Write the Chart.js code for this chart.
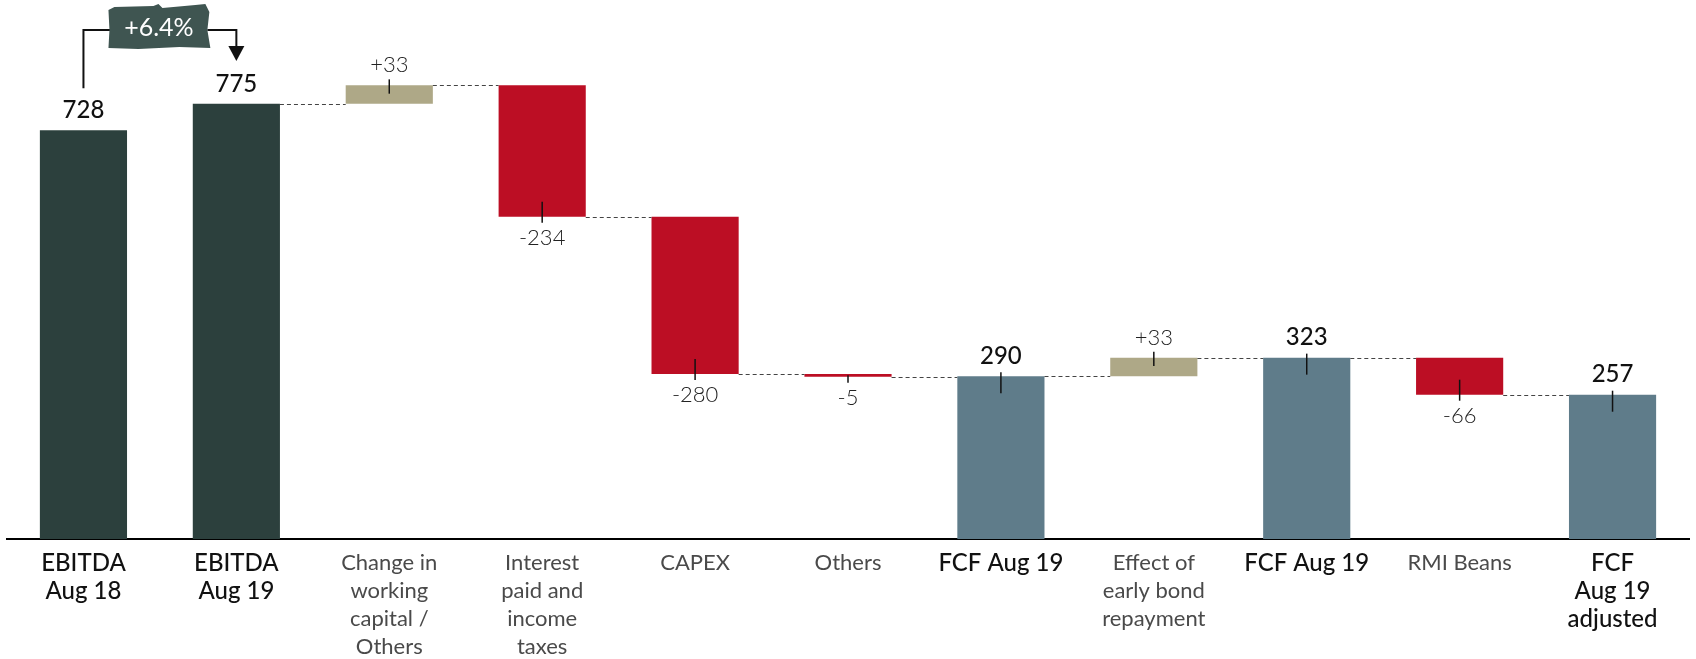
<!DOCTYPE html>
<html>
<head>
<meta charset="utf-8">
<script src="https://cdn.jsdelivr.net/npm/chart.js@4.4.0/dist/chart.umd.min.js"></script>
<style>
  html, body { margin: 0; padding: 0; background: #fff; }
  #wrap { width: 1696px; height: 659px; position: relative; }
</style>
</head>
<body>
<div id="wrap"><canvas id="fcfChart"></canvas></div>
<script>
    // Data
    const categories = [
        ['EBITDA', 'Aug 18'],
        ['EBITDA', 'Aug 19'],
        ['Change in', 'working', 'capital /', 'Others'],
        ['Interest', 'paid and', 'income', 'taxes'],
        ['CAPEX'],
        ['Others'],
        ['FCF Aug 19'],
        ['Effect of', 'early bond', 'repayment'],
        ['FCF Aug 19'],
        ['RMI Beans'],
        ['FCF', 'Aug 19', 'adjusted']
    ];
    const values = [728, 775, 33, -234, -280, -5, 290, 33, 323, -66, 257];
    const kinds = ['total', 'total', 'delta', 'delta', 'delta', 'delta', 'total', 'delta', 'total', 'delta', 'total'];
    const barColors = ['#2c403d', '#2c403d', '#aea887', '#bc0e24', '#bc0e24', '#bc0e24', '#5f7c8a', '#aea887', '#5f7c8a', '#bc0e24', '#5f7c8a'];
    const growthLabel = '+6.4%';

    // Build floating ranges for the waterfall
    let running = 0;
    const ranges = values.map((v, i) => {
        if (kinds[i] === 'total') {
            running = v;
            return [0, v];
        }
        const start = running;
        running += v;
        return [start, running];
    });

    const FONT = 'Lato, "Noto Sans", sans-serif';

    // Connectors, tick marks, value labels and the growth bracket
    const waterfallDecor = {
        id: 'waterfallDecor',
        afterDatasetsDraw(chart) {
            const ctx = chart.ctx;
            const bars = chart.getDatasetMeta(0).data;
            const y = chart.scales.y;

            ctx.save();
            // dashed connectors at the end level of each bar
            ctx.strokeStyle = '#444';
            ctx.lineWidth = 1;
            ctx.setLineDash([4, 3]);
            for (let i = 1; i < bars.length - 1; i++) {
                const a = bars[i], b = bars[i + 1];
                const yy = Math.round(y.getPixelForValue(ranges[i][1])) + 0.5;
                ctx.beginPath();
                ctx.moveTo(a.x + a.width / 2, yy);
                ctx.lineTo(b.x - b.width / 2, yy);
                ctx.stroke();
            }
            ctx.setLineDash([]);

            // tick marks and labels
            ctx.textAlign = 'center';
            ctx.textBaseline = 'middle';
            bars.forEach((bar, i) => {
                const v = values[i];
                const top = y.getPixelForValue(Math.max(ranges[i][0], ranges[i][1]));
                const bottom = y.getPixelForValue(Math.min(ranges[i][0], ranges[i][1]));
                const h = bottom - top;
                ctx.strokeStyle = '#111';
                ctx.lineWidth = 1.5;
                if (kinds[i] === 'total') {
                    if (i > 1) {
                        ctx.beginPath();
                        ctx.moveTo(bar.x, top - 4);
                        ctx.lineTo(bar.x, top + 17);
                        ctx.stroke();
                    }
                    ctx.fillStyle = '#111';
                    ctx.font = '500 24px ' + FONT;
                    ctx.fillText(String(v), bar.x, top - 20);
                } else if (v > 0) {
                    ctx.beginPath();
                    ctx.moveTo(bar.x, top - 6);
                    ctx.lineTo(bar.x, top + Math.min(15, h * 0.45));
                    ctx.stroke();
                    ctx.fillStyle = '#222';
                    ctx.font = '300 22px ' + FONT;
                    ctx.fillText('+' + v, bar.x, top - 20);
                } else {
                    ctx.beginPath();
                    ctx.moveTo(bar.x, bottom - Math.min(15, Math.max(h * 0.5, 1)));
                    ctx.lineTo(bar.x, bottom + 6);
                    ctx.stroke();
                    ctx.fillStyle = '#222';
                    ctx.font = '300 22px ' + FONT;
                    ctx.fillText(String(v), bar.x, bottom + 21);
                }
            });

            // growth bracket between the two EBITDA bars
            const x0 = bars[0].x, x1 = bars[1].x;
            const top0 = y.getPixelForValue(values[0]);
            const lineY = 30;
            const bx0 = x0 + 25, bx1 = x1 - 27;
            ctx.strokeStyle = '#111';
            ctx.lineWidth = 2;
            ctx.beginPath();
            ctx.moveTo(x0, top0 - 42);
            ctx.lineTo(x0, lineY);
            ctx.lineTo(bx0 + 2, lineY);
            ctx.moveTo(bx1 - 2, lineY);
            ctx.lineTo(x1, lineY);
            ctx.lineTo(x1, 48);
            ctx.stroke();
            ctx.fillStyle = '#111';
            ctx.beginPath();
            ctx.moveTo(x1 - 8, 46);
            ctx.lineTo(x1 + 8, 46);
            ctx.lineTo(x1, 61);
            ctx.closePath();
            ctx.fill();

            // rough badge
            ctx.fillStyle = '#3f5551';
            ctx.beginPath();
            ctx.moveTo(bx0, 10);
            ctx.lineTo(bx0 + 6, 7);
            ctx.lineTo(bx0 + 45, 6);
            ctx.lineTo(bx0 + 50, 4);
            ctx.lineTo(bx0 + 54, 8);
            ctx.lineTo(bx1 - 14, 5);
            ctx.lineTo(bx1 - 4, 4);
            ctx.lineTo(bx1, 12);
            ctx.lineTo(bx1 - 2, 30);
            ctx.lineTo(bx1 + 1, 48);
            ctx.lineTo(bx1 - 30, 47);
            ctx.lineTo(bx0 + 30, 49);
            ctx.lineTo(bx0, 48);
            ctx.lineTo(bx0 + 1, 30);
            ctx.closePath();
            ctx.fill();
            ctx.fillStyle = '#fff';
            ctx.font = '400 25px ' + FONT;
            ctx.fillText(growthLabel, (bx0 + bx1) / 2, 28);
            ctx.restore();
        }
    };

    const chartCtx = document.getElementById('fcfChart').getContext('2d');
    new Chart(chartCtx, {
        type: 'bar',
        data: {
            labels: categories,
            datasets: [{
                data: ranges,
                backgroundColor: barColors,
                borderWidth: 0,
                barPercentage: 0.57,
                categoryPercentage: 1
            }]
        },
        options: {
            responsive: true,
            maintainAspectRatio: false,
            animation: false,
            layout: { padding: { left: 7, right: 7, top: 0, bottom: 0 } },
            plugins: {
                legend: { display: false },
                tooltip: { enabled: false }
            },
            scales: {
                x: {
                    grid: { display: false, drawTicks: false },
                    border: { display: true, color: '#000', width: 2 },
                    afterFit: (scale) => { scale.height = 120; },
                    ticks: {
                        padding: 10,
                        maxRotation: 0,
                        autoSkip: false,
                        color: (c) => kinds[c.index] === 'total' ? '#111' : '#4a4a4a',
                        font: (c) => kinds[c.index] === 'total'
                            ? { family: FONT, size: 24, weight: '500', lineHeight: 28 / 24 }
                            : { family: FONT, size: 22, weight: '400', lineHeight: 28 / 22 }
                    }
                },
                y: {
                    display: false,
                    min: 0,
                    max: 960
                }
            }
        },
        plugins: [waterfallDecor]
    });
</script>
</body>
</html>
